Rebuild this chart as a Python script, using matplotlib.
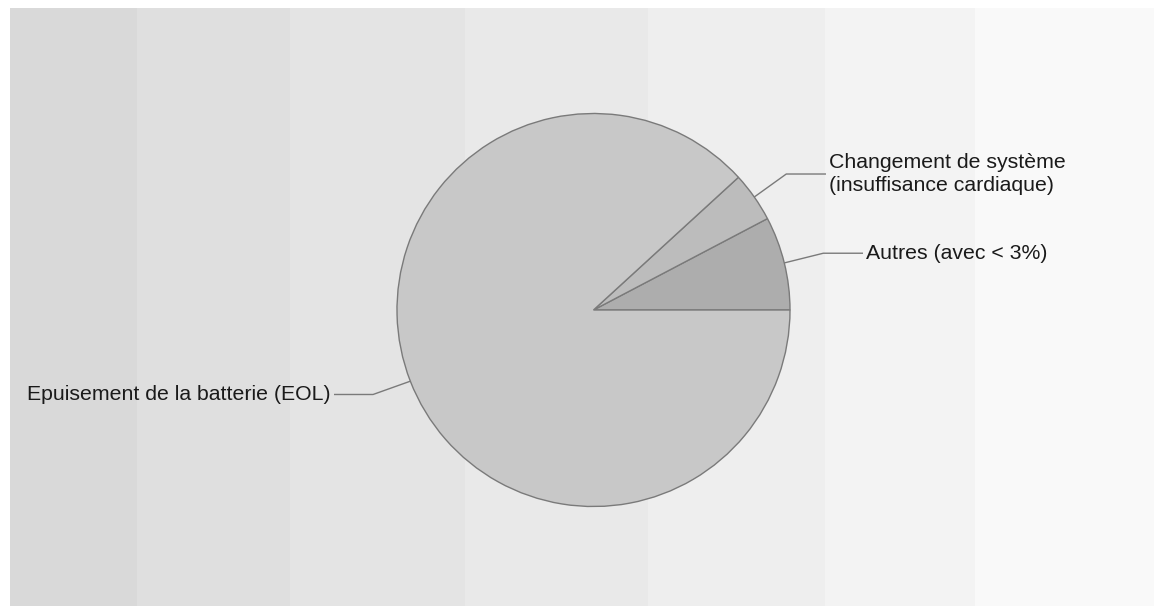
import numpy as np
import matplotlib
matplotlib.use("Agg")
import matplotlib.pyplot as plt

# Data
categories = ["Autres (avec < 3%)", "Changement de système\n(insuffisance cardiaque)", "Epuisement de la batterie (EOL)"]
values = [7.7, 4.1, 88.2]
slice_colors = ["#adadad", "#bcbcbc", "#c8c8c8"]

W, H = 1154, 606
fig = plt.figure(figsize=(W / 100, H / 100), dpi=100)
fig.patch.set_facecolor("white")

# Background bands
bg = fig.add_axes([0, 0, 1, 1])
bg.set_xlim(0, W)
bg.set_ylim(0, H)
bg.axis("off")
band_edges = [10, 137, 290, 465, 648, 825, 975, 1154]
band_colors = ["#d9d9d9", "#dfdfdf", "#e4e4e4", "#e9e9e9", "#eeeeee", "#f3f3f3", "#f9f9f9"]
for i, c in enumerate(band_colors):
    bg.axvspan(band_edges[i], band_edges[i + 1], ymin=0, ymax=(H - 8) / H, color=c, lw=0)

# Pie
ax = fig.add_axes([0, 0, 1, 1])
ax.patch.set_alpha(0)
cx, cy, r = 593.5, H - 310, 196.5
wedges, _ = ax.pie(values, startangle=0, counterclock=True, center=(cx, cy), radius=r,
                   colors=slice_colors,
                   wedgeprops=dict(edgecolor="#7a7a7a", linewidth=1.0))
ax.set_xlim(0, W)
ax.set_ylim(0, H)
ax.set_aspect("equal")
ax.axis("off")

# label layout: (kink dx, kink dy, horizontal end x, text side)
layout = [
    (39, 9.7, 863, "right"),
    (32, 23, 826, "right"),
    (-37.3, -13.3, 334, "left"),
]
fs = 15.3
for w, lab, (kdx, kdy, hx, side) in zip(wedges, categories, layout):
    th = np.deg2rad((w.theta1 + w.theta2) / 2)
    sx, sy = cx + r * np.cos(th), cy + r * np.sin(th)
    kx, ky = sx + kdx, sy + kdy
    ax.plot([sx, kx, hx], [sy, ky, ky], color="#7a7a7a", lw=1.0, solid_capstyle="butt")
    if side == "right":
        ax.text(hx + 3, ky, lab, ha="left", va="center", fontsize=fs,
                family="Liberation Sans", color="#1a1a1a", linespacing=1.22)
    else:
        ax.text(hx - 3, ky, lab, ha="right", va="center", fontsize=fs,
                family="Liberation Sans", color="#1a1a1a")

fig.savefig("out.png", dpi=100, facecolor="white")
